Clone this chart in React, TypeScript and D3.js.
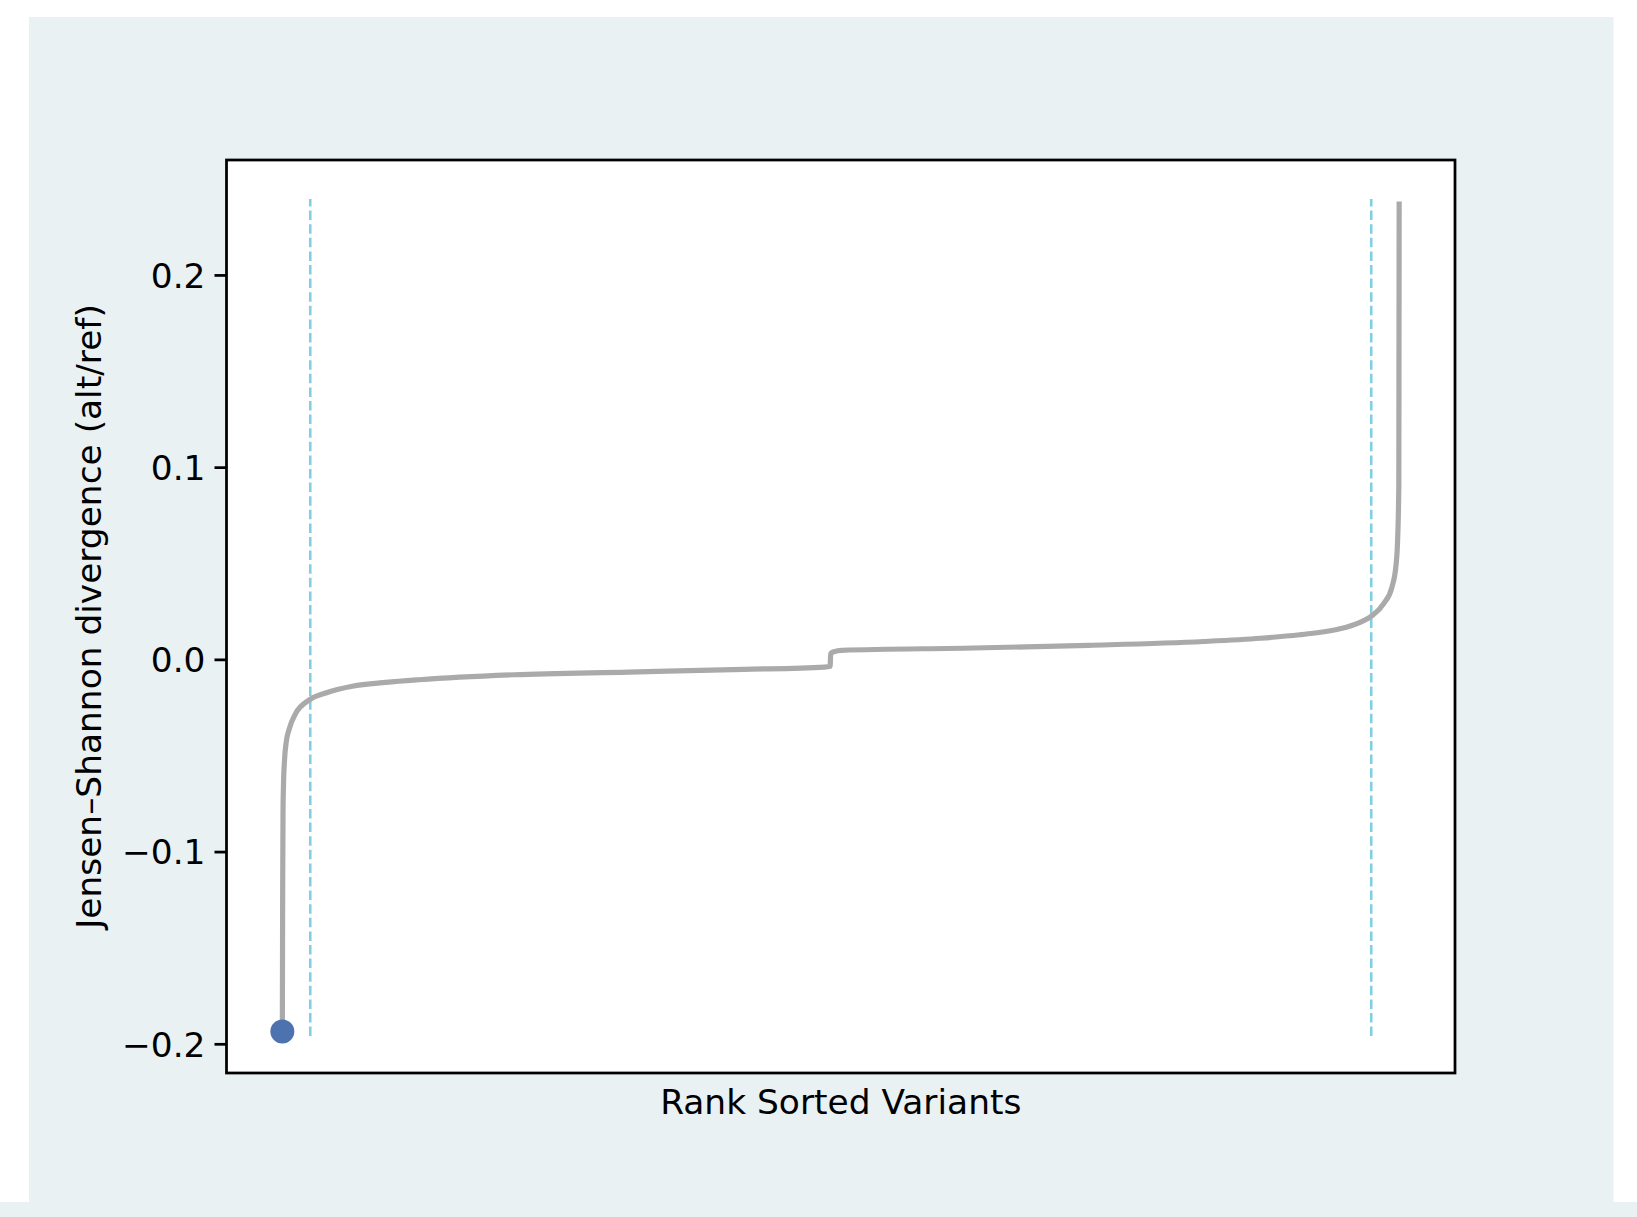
import * as d3 from 'd3'
import { useEffect, useRef } from 'react'

// rank position of each variant (percent of sorted list) and its JS divergence
const rankPct = [
    0, 0.03, 0.06, 0.1, 0.2, 0.35, 0.6, 1.2, 2.39, 3.89, 6.27, 9.27, 12.25,
    20.75, 31.04, 41.33, 48.53, 49.05, 49.1, 49.4, 50.08, 61.9, 72.2, 82.5,
    87.6, 91.1, 92.3, 94.7, 96.5, 97.6, 98.6, 99.35, 99.73, 99.88, 99.97, 100,
]
const jsDivergence = [
    -0.1936, -0.12, -0.08, -0.066, -0.052, -0.043, -0.0365, -0.0281, -0.0212,
    -0.0175, -0.014, -0.012, -0.0106, -0.008, -0.0066, -0.0052, -0.004, -0.0036,
    0.003, 0.004, 0.0047, 0.0059, 0.0073, 0.0093, 0.011, 0.0128, 0.0136, 0.0159,
    0.0193, 0.0228, 0.0289, 0.0375, 0.0496, 0.0651, 0.091, 0.2382,
]

// 2.5% / 97.5% cut-offs
const cutoffPct = [2.5, 97.5]
const cutoffSpan = [-0.196, 0.2395]

const yTicks = [-0.2, -0.1, 0.0, 0.1, 0.2]

const W = 1637
const H = 1217
const FONT = '"DejaVu Sans", sans-serif'
const FONT_SIZE = 34.4

const drawChart = (svgEl: SVGSVGElement) => {
    const svg = d3.select(svgEl)
    svg.selectAll('*').remove()

    const frame = { left: 226.5, right: 1455, top: 160, bottom: 1073 }

    // figure background
    svg.append('rect').attr('width', W).attr('height', H).attr('fill', '#ffffff')
    svg.append('rect')
        .attr('x', 29).attr('y', 17)
        .attr('width', 1584.5).attr('height', 1185)
        .attr('fill', '#e9f1f3')
    svg.append('rect')
        .attr('x', 0).attr('y', 1202)
        .attr('width', W).attr('height', H - 1202)
        .attr('fill', '#e9f1f3')

    svg.append('rect')
        .attr('x', frame.left).attr('y', frame.top)
        .attr('width', frame.right - frame.left)
        .attr('height', frame.bottom - frame.top)
        .attr('fill', '#ffffff')

    const xMin = d3.min(rankPct)!
    const xMax = d3.max(rankPct)!
    const xPad = (xMax - xMin) * 0.05
    const x = d3.scaleLinear()
        .domain([xMin - xPad, xMax + xPad])
        .range([frame.left, frame.right])

    const yMin = d3.min(jsDivergence)!
    const yMax = d3.max(jsDivergence)!
    const yPad = (yMax - yMin) * 0.05
    const y = d3.scaleLinear()
        .domain([yMin - yPad, yMax + yPad])
        .range([frame.bottom, frame.top])

    // cut-off lines
    svg.selectAll('line.cutoff')
        .data(cutoffPct)
        .enter()
        .append('line')
        .attr('class', 'cutoff')
        .attr('x1', d => x(d)).attr('x2', d => x(d))
        .attr('y1', y(cutoffSpan[0])).attr('y2', y(cutoffSpan[1]))
        .attr('stroke', '#80d0e2')
        .attr('stroke-width', 2.6)
        .attr('stroke-dasharray', '9.5 4.1')

    const points = rankPct.map((r, i) => [r, jsDivergence[i]] as [number, number])
    const line = d3.line<[number, number]>()
        .x(d => x(d[0]))
        .y(d => y(d[1]))
        .curve(d3.curveMonotoneX)

    svg.append('path')
        .datum(points)
        .attr('fill', 'none')
        .attr('stroke', '#aaaaaa')
        .attr('stroke-width', 5.2)
        .attr('stroke-linejoin', 'round')
        .attr('d', line)

    // lowest variant marker
    svg.append('circle')
        .attr('cx', x(rankPct[0]))
        .attr('cy', y(jsDivergence[0]))
        .attr('r', 12)
        .attr('fill', '#4c72b0')

    // y axis
    const yAxis = svg.append('g')
        .attr('transform', `translate(${frame.left},0)`)
        .call(d3.axisLeft(y).tickValues(yTicks).tickSize(12).tickPadding(9).tickFormat(d3.format('.1f')))
    yAxis.select('.domain').remove()
    yAxis.selectAll('line').attr('stroke', '#000').attr('stroke-width', 2.75)
    yAxis.selectAll('text')
        .attr('font-family', FONT)
        .attr('font-size', FONT_SIZE)
        .attr('fill', '#000')
        .attr('dy', '0.36em')

    svg.append('rect')
        .attr('x', frame.left).attr('y', frame.top)
        .attr('width', frame.right - frame.left)
        .attr('height', frame.bottom - frame.top)
        .attr('fill', 'none')
        .attr('stroke', '#000')
        .attr('stroke-width', 2.75)

    svg.append('text')
        .attr('x', (frame.left + frame.right) / 2)
        .attr('y', 1114)
        .attr('text-anchor', 'middle')
        .attr('font-family', FONT)
        .attr('font-size', FONT_SIZE)
        .text('Rank Sorted Variants')

    svg.append('text')
        .attr('transform', `translate(101,${(frame.top + frame.bottom) / 2}) rotate(-90)`)
        .attr('text-anchor', 'middle')
        .attr('font-family', FONT)
        .attr('font-size', FONT_SIZE)
        .text('Jensen–Shannon divergence (alt/ref)')
}

const App = () => {
    const ref = useRef<SVGSVGElement>(null)

    useEffect(() => {
        if (ref.current) drawChart(ref.current)
    }, [])

    return (
        <svg ref={ref} width={W} height={H}
            style={{ position: 'absolute', left: 0, top: 0, display: 'block' }} />
    )
}

export default App
